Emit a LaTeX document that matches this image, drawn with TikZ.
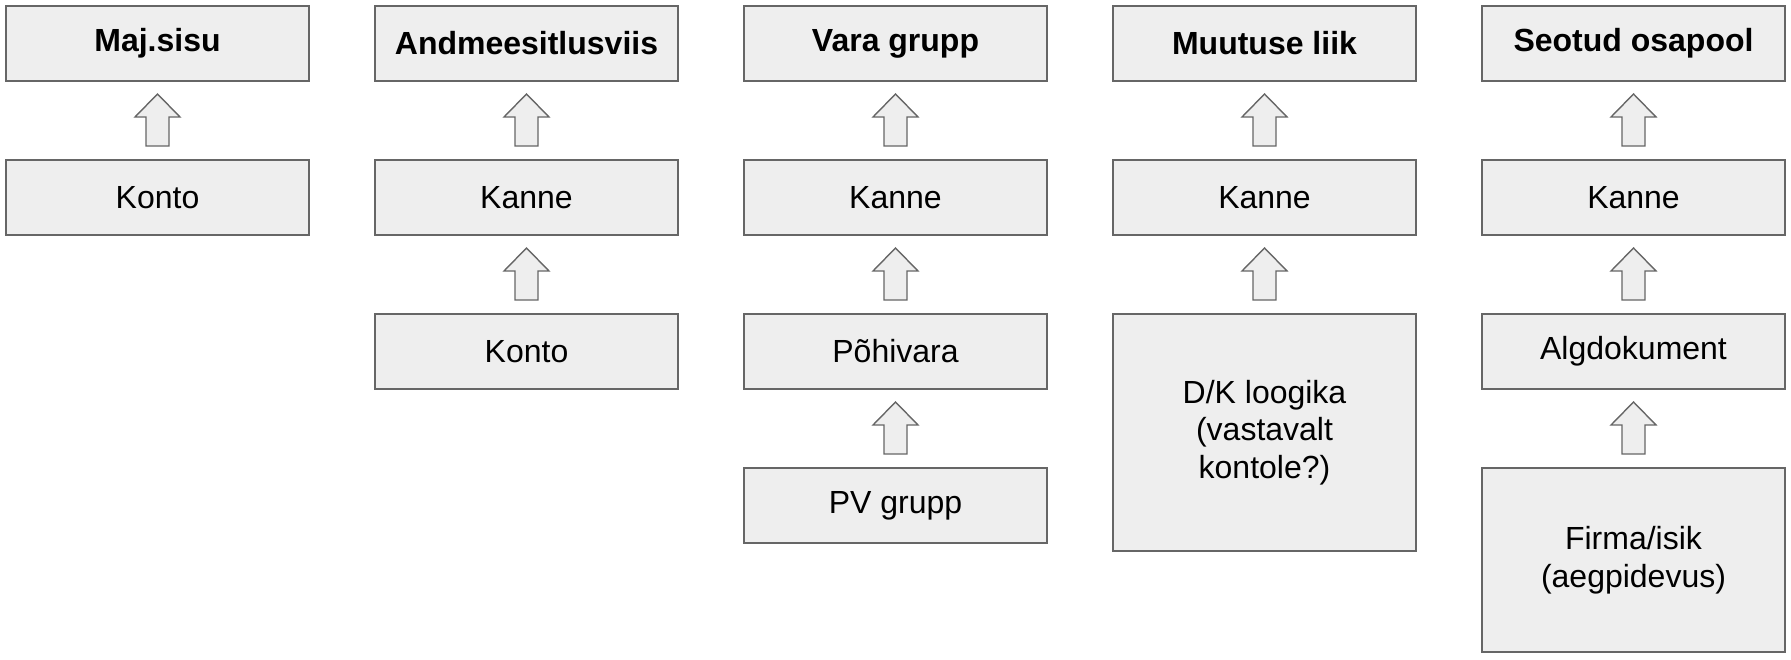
\documentclass[tikz,border=0pt]{standalone}
\usepackage{fontspec}
\setmainfont{Liberation Sans}
\usepackage{xcolor}
\definecolor{boxfill}{HTML}{EEEEEE}
\definecolor{boxline}{HTML}{666666}
\usetikzlibrary{positioning,calc}
\tikzset{
  entitybox/.style={draw=boxline,fill=boxfill,line width=0.7pt,outer sep=0pt,minimum width=151.5pt,minimum height=37.5pt,align=center,font=\fontsize{16}{18.75}\selectfont},
  titlebox/.style={entitybox,font=\fontsize{16}{18.75}\selectfont\bfseries},
  liftarrow/.style={draw=boxline,fill=boxfill,line width=0.7pt,line join=miter}
}
\newcommand{\liftto}[2]{%
  \coordinate (ab) at ($(#1.north)+(0,7pt)$);
  \coordinate (ah) at ($(#2.south)+(0,-18pt)$);
  \draw[liftarrow] ([xshift=-5.75pt]ab) -- ([xshift=-5.75pt]ah) -- ([xshift=-11.25pt]ah)
    -- ([yshift=11.5pt]ah) -- ([xshift=11.25pt]ah) -- ([xshift=5.75pt]ah) -- ([xshift=5.75pt]ab) -- cycle;}

\begin{document}
\begin{tikzpicture}[node distance=39.5pt and 33pt]
\useasboundingbox (0,0) rectangle (895.5pt,-329.5pt);
\node[titlebox,anchor=north west] (majsisu) at (3pt,-3pt) {Maj.sisu};
\node[titlebox,right=of majsisu] (andmeesitlus) {Andmeesitlusviis};
\node[titlebox,right=of andmeesitlus] (varagrupp) {Vara grupp};
\node[titlebox,right=of varagrupp] (muutus) {Muutuse liik};
\node[titlebox,right=of muutus] (osapool) {Seotud osapool};
% first column
\node[entitybox,below=of majsisu] (konto1) {Konto};
% second column
\node[entitybox,below=of andmeesitlus] (kanne2) {Kanne};
\node[entitybox,below=of kanne2] (konto2) {Konto};
% third column
\node[entitybox,below=of varagrupp] (kanne3) {Kanne};
\node[entitybox,below=of kanne3] (pohivara) {Põhivara};
\node[entitybox,below=of pohivara] (pvgrupp) {PV grupp};
% fourth column
\node[entitybox,below=of muutus] (kanne4) {Kanne};
\node[entitybox,below=of kanne4,minimum height=118.5pt] (dkloogika) {D/K loogika\\(vastavalt\\kontole?)};
% fifth column
\node[entitybox,below=of osapool] (kanne5) {Kanne};
\node[entitybox,below=of kanne5] (algdok) {Algdokument};
\node[entitybox,below=of algdok,minimum height=92pt] (firma) {Firma/isik\\(aegpidevus)};
\liftto{konto1}{majsisu}
\liftto{kanne2}{andmeesitlus}
\liftto{konto2}{kanne2}
\liftto{kanne3}{varagrupp}
\liftto{pohivara}{kanne3}
\liftto{pvgrupp}{pohivara}
\liftto{kanne4}{muutus}
\liftto{dkloogika}{kanne4}
\liftto{kanne5}{osapool}
\liftto{algdok}{kanne5}
\liftto{firma}{algdok}
\end{tikzpicture}
\end{document}
